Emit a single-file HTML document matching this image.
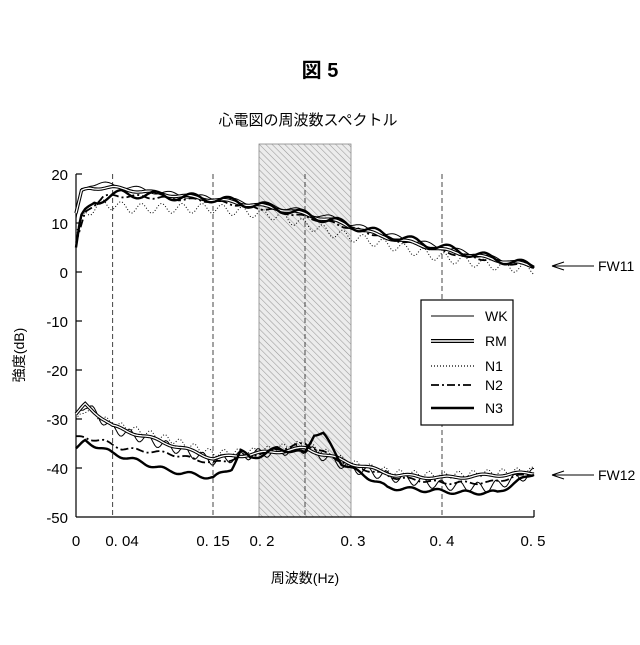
<!DOCTYPE html>
<html><head><meta charset="utf-8"><style>
body{margin:0;background:#fff}
svg text{font-family:"Liberation Sans","Noto Sans CJK JP",sans-serif;fill:#000}
</style></head><body>
<svg id="s" width="640" height="640" viewBox="0 0 640 640" xmlns="http://www.w3.org/2000/svg">
<defs><pattern id="h" width="4.5" height="4.5" patternUnits="userSpaceOnUse" patternTransform="rotate(-45)">
<rect width="4.5" height="4.5" fill="#ececec"/><line x1="0" y1="0" x2="0" y2="4.5" stroke="#999" stroke-width="1.1"/></pattern></defs>
<text x="320" y="77" font-size="20" text-anchor="middle" font-weight="bold">図 5</text>
<text x="308" y="125" font-size="15" text-anchor="middle">心電図の周波数スペクトル</text>
<rect x="259" y="144" width="92" height="373" fill="url(#h)" stroke="#888" stroke-width="0.8"/>
<g stroke="#444" stroke-width="1" stroke-dasharray="5,3">
<line x1="112.6" y1="174" x2="112.6" y2="517"/><line x1="213" y1="174" x2="213" y2="517"/>
<line x1="305" y1="174" x2="305" y2="517"/><line x1="442" y1="174" x2="442" y2="517"/></g>
<g stroke="#000" stroke-width="1.2" fill="none">
<line x1="76" y1="174" x2="76" y2="517"/><line x1="76" y1="517" x2="534" y2="517"/>
<line x1="534" y1="510" x2="534" y2="517"/>
<line x1="76" y1="174" x2="82" y2="174"/><line x1="76" y1="223" x2="82" y2="223"/><line x1="76" y1="272" x2="82" y2="272"/>
<line x1="76" y1="321" x2="82" y2="321"/><line x1="76" y1="370" x2="82" y2="370"/><line x1="76" y1="419" x2="82" y2="419"/>
<line x1="76" y1="468" x2="82" y2="468"/>
</g>
<g font-size="15" text-anchor="end">
<text x="68" y="180">20</text><text x="68" y="229">10</text><text x="68" y="278">0</text><text x="68" y="327">-10</text>
<text x="68" y="376">-20</text><text x="68" y="425">-30</text><text x="68" y="474">-40</text><text x="68" y="523">-50</text></g>
<g font-size="15" text-anchor="middle">
<text x="76" y="546">0</text><text x="122" y="546">0. 04</text><text x="213" y="546">0. 15</text><text x="262" y="546">0. 2</text>
<text x="353" y="546">0. 3</text><text x="442" y="546">0. 4</text><text x="533" y="546">0. 5</text></g>
<text x="305" y="583" font-size="14" text-anchor="middle">周波数(Hz)</text>
<text transform="translate(24,355) rotate(-90)" font-size="14" text-anchor="middle">強度(dB)</text>
<g id="curves"></g>
<rect x="421" y="300" width="92" height="125" fill="#fff" stroke="#000" stroke-width="1.2"/>
<line x1="431" y1="316" x2="474" y2="316" stroke="#000" stroke-width="1"/>
<line x1="431" y1="341" x2="474" y2="341" stroke="#000" stroke-width="4"/><line x1="431" y1="341" x2="474" y2="341" stroke="#fff" stroke-width="1.6"/>
<line x1="431" y1="366" x2="474" y2="366" stroke="#000" stroke-width="1.2" stroke-dasharray="1,2"/>
<line x1="431" y1="385" x2="474" y2="385" stroke="#000" stroke-width="1.8" stroke-dasharray="8,3,2,3"/>
<line x1="431" y1="408" x2="474" y2="408" stroke="#000" stroke-width="2.6"/>
<g font-size="14"><text x="485" y="321">WK</text><text x="485" y="346">RM</text><text x="485" y="371">N1</text><text x="485" y="390">N2</text><text x="485" y="413">N3</text></g>
<g stroke="#000" stroke-width="1"><line x1="552" y1="266" x2="594" y2="266"/><line x1="552" y1="266" x2="564" y2="262"/><line x1="552" y1="266" x2="564" y2="270"/>
<line x1="552" y1="475" x2="594" y2="475"/><line x1="552" y1="475" x2="564" y2="471"/><line x1="552" y1="475" x2="564" y2="479"/></g>
<g font-size="14"><text x="598" y="271">FW11</text><text x="598" y="480">FW12</text></g>
</svg>
<script>
function X(f){return 76+f*916}function Y(d){return 272-d*4.9}
function interp(pts,f){for(let i=1;i<pts.length;i++){if(f<=pts[i][0]){const a=pts[i-1],b=pts[i];return a[1]+(b[1]-a[1])*(f-a[0])/(b[0]-a[0]);}}return pts[pts.length-1][1];}
function path(pts,amp,per,ph){let d="";for(let f=0;f<=0.5001;f+=0.002){let v=interp(pts,f)+amp*Math.sin(f/per*2*Math.PI+ph)*(f<0.01?f/0.01:1);d+=(d?"L":"M")+X(f).toFixed(1)+","+Y(v).toFixed(1);}return d;}
const g=document.getElementById("curves");
function add(d,sw,dash,white){let p=document.createElementNS("http://www.w3.org/2000/svg","path");p.setAttribute("d",d);p.setAttribute("fill","none");p.setAttribute("stroke","#000");p.setAttribute("stroke-width",sw);if(dash)p.setAttribute("stroke-dasharray",dash);g.appendChild(p);
if(white){let q=p.cloneNode();q.setAttribute("stroke","#fff");q.setAttribute("stroke-width",white);g.appendChild(q);}}
const up={
WK:[[0,11],[0.006,17],[0.015,18],[0.04,17.8],[0.1,16],[0.15,15],[0.22,13.5],[0.28,11],[0.33,8],[0.4,5],[0.45,3],[0.5,1.5]],
RM:[[0,12],[0.006,16.5],[0.015,17.2],[0.04,17.2],[0.1,15.8],[0.15,14.8],[0.22,13],[0.28,10.5],[0.33,7.5],[0.4,4.5],[0.45,2.8],[0.5,1.2]],
N1:[[0,8],[0.01,12],[0.03,14],[0.06,13],[0.15,13],[0.22,11.5],[0.28,8],[0.33,6],[0.4,3],[0.45,1.5],[0.5,0.5]],
N2:[[0,6],[0.01,12],[0.03,15.5],[0.06,15.5],[0.15,14.5],[0.22,12.5],[0.28,10],[0.33,7.5],[0.4,4.2],[0.45,2.5],[0.5,1]],
N3:[[0,5],[0.005,11],[0.02,14.5],[0.05,16],[0.1,15.5],[0.15,15],[0.22,13],[0.28,10.5],[0.33,8],[0.4,5],[0.45,3],[0.5,1.2]]};
const lo={
WK:[[0,-29],[0.01,-27],[0.04,-32],[0.1,-35.5],[0.15,-38.5],[0.2,-37],[0.25,-36],[0.3,-40],[0.35,-42],[0.4,-43.5],[0.45,-44],[0.5,-41]],
RM:[[0,-29],[0.01,-27],[0.04,-31.5],[0.1,-35],[0.15,-38],[0.2,-37],[0.25,-36],[0.3,-39],[0.35,-41.5],[0.4,-42],[0.45,-41.5],[0.5,-41]],
N1:[[0,-30],[0.01,-28],[0.04,-31],[0.1,-34],[0.15,-37],[0.2,-36.5],[0.25,-35],[0.3,-39],[0.35,-41],[0.4,-41.5],[0.45,-41],[0.5,-40.5]],
N2:[[0,-33.5],[0.03,-34.5],[0.05,-36],[0.1,-37],[0.15,-39],[0.2,-37],[0.25,-35],[0.3,-39.5],[0.35,-42],[0.4,-43],[0.45,-43],[0.5,-41]],
N3:[[0,-36],[0.01,-34.5],[0.04,-37],[0.1,-40.5],[0.15,-42],[0.17,-40],[0.18,-36.5],[0.19,-38],[0.2,-37.5],[0.22,-36],[0.25,-37],[0.26,-33],[0.27,-33],[0.29,-39],[0.3,-40],[0.34,-44],[0.38,-44.5],[0.42,-45],[0.46,-45],[0.5,-41]]};
add(path(up.N1,1.0,0.022,0),1,"1,2");add(path(lo.N1,0.7,0.016,1),1,"1,2");
add(path(up.N2,0.3,0.03,0),1.8,"8,3,2,3");add(path(lo.N2,0.3,0.03,1),1.8,"8,3,2,3");
add(path(up.WK,0.5,0.035,2),1);add(path(lo.WK,1,0.02,2),1);
add(path(up.RM,0.3,0.04,1),3.4,null,1.3);add(path(lo.RM,0.3,0.04,1),3.4,null,1.3);
add(path(up.N3,0.8,0.04,0.5),2.4);add(path(lo.N3,0.4,0.03,0.5),2.4);
</script>
</body></html>
